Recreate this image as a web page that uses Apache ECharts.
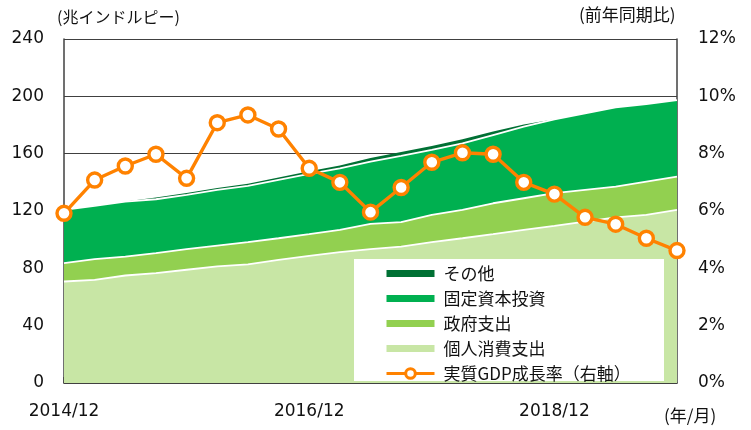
<!DOCTYPE html>
<html>
<head>
<meta charset="utf-8">
<script src="https://cdn.jsdelivr.net/npm/echarts@6/dist/echarts.min.js"></script>
<style>
  html, body { margin: 0; padding: 0; background: #fff; }
  #main { width: 751px; height: 430px; }
</style>
</head>
<body>
<div id="main"></div>
<script>
// 四半期 (年/月)
var quarters = ['2014/12', '2015/03', '2015/06', '2015/09', '2015/12', '2016/03', '2016/06', '2016/09',
    '2016/12', '2017/03', '2017/06', '2017/09', '2017/12', '2018/03', '2018/06', '2018/09',
    '2018/12', '2019/03', '2019/06', '2019/09', '2019/12'];

// 兆インドルピー
var consumption = [70.8, 72.0, 75.0, 76.6, 79.0, 81.3, 82.7, 85.9, 88.7, 91.3, 93.4,
    95.2, 98.3, 101.0, 103.8, 106.8, 109.6, 112.6, 115.5, 117.3, 120.8];
var government = [12.8, 14.4, 13.2, 14.0, 14.4, 14.6, 15.6, 15.1, 15.1, 15.5, 17.6,
    17.0, 19.0, 19.8, 21.6, 22.1, 22.8, 22.1, 21.5, 23.2, 23.2];
var investment = [37.2, 37.2, 38.4, 37.6, 37.8, 38.8, 39.2, 40.7, 42.1, 43.0, 43.5,
    46.2, 45.3, 46.4, 47.6, 49.9, 51.6, 53.5, 55.3, 54.1, 53.4];
var other = [0, 0, 0, 1.2, 1.3, 1.4, 1.5, 1.6, 1.8, 2.0, 2.5,
    2.8, 2.8, 2.8, 2.5, 1.5, 0, 0, 0, 0, 0];

// 前年同期比 (%)
var gdpGrowth = [5.92, 7.08, 7.57, 7.98, 7.14, 9.08, 9.35, 8.86, 7.49, 7.0, 5.96,
    6.82, 7.70, 8.03, 7.98, 7.0, 6.59, 5.78, 5.54, 5.05, 4.62];

var leftTicks = [0, 240, 40];   // min, max, interval
var rightTicks = [0, 12, 2];

var names = ['個人消費支出', '政府支出', '固定資本投資', 'その他', '実質GDP成長率（右軸）'];
var colors = ['#c8e6a5', '#92d050', '#00b050', '#007034', '#ff8200'];

var jpFont = '"Noto Sans CJK JP", sans-serif';
var numFont = '"DejaVu Sans", Verdana, sans-serif';
var textColor = '#111';
var axisColor = '#404040';
// 凡例の帯 (幅48・高さ7を高さ12の枠の中に)
var barIcon = 'path://M0,0L0,0M0,2.5L48,2.5L48,9.5L0,9.5ZM0,12L0,12';

var chart = echarts.init(document.getElementById('main'));

function areaSeries(i, data) {
    return {
        name: names[i],
        type: 'line',
        stack: 'gdp',
        data: data,
        symbol: 'none',
        itemStyle: { color: colors[i] },
        lineStyle: { color: i === 3 ? colors[i] : '#fff', width: i === 3 ? 0 : 1.8 },
        areaStyle: { color: colors[i], opacity: 1 },
        emphasis: { disabled: true },
        z: 2
    };
}

var option = {
    animation: false,
    grid: { left: 64, right: 74, top: 39, bottom: 47 },
    legend: {
        orient: 'vertical',
        left: 380,
        top: 259,
        itemWidth: 48,
        itemHeight: 12,
        itemGap: 6,
        z: 6,
        textStyle: { fontFamily: jpFont, fontSize: 17, color: textColor, lineHeight: 19, padding: [0, 0, 0, 4] },
        data: [
            { name: 'その他', icon: barIcon },
            { name: '固定資本投資', icon: barIcon },
            { name: '政府支出', icon: barIcon },
            { name: '個人消費支出', icon: barIcon },
            { name: '実質GDP成長率（右軸）', lineStyle: { width: 3 }, itemStyle: { borderWidth: 3 } }
        ]
    },
    graphic: [
        { type: 'rect', z: 5, shape: { x: 354, y: 259, width: 310, height: 122 }, style: { fill: '#fff' } },
        { type: 'text', z: 6, left: 57, top: 9, style: { text: '(兆インドルピー)', font: '16px ' + jpFont, fill: textColor } },
        { type: 'text', z: 6, left: 579, top: 6, style: { text: '(前年同期比)', font: '17px ' + jpFont, fill: textColor } },
        { type: 'text', z: 6, left: 664, top: 407, style: { text: '(年/月)', font: '17px ' + jpFont, fill: textColor } }
    ],
    xAxis: {
        type: 'category',
        boundaryGap: false,
        data: quarters,
        axisLine: { lineStyle: { color: axisColor, width: 1.5 } },
        axisTick: { inside: true, length: 6, interval: 7, lineStyle: { color: axisColor, width: 1.5 } },
        axisLabel: { interval: 7, margin: 20, fontFamily: numFont, fontSize: 17, color: textColor },
        splitLine: { show: false }
    },
    yAxis: [{
        type: 'value',
        min: leftTicks[0],
        max: leftTicks[1],
        interval: leftTicks[2],
        axisLine: { show: true, lineStyle: { color: axisColor, width: 1.5 } },
        axisTick: { show: false },
        axisLabel: { margin: 20, fontFamily: numFont, fontSize: 17, color: textColor },
        splitLine: { lineStyle: { color: axisColor, width: 1.2 } }
    }, {
        type: 'value',
        min: rightTicks[0],
        max: rightTicks[1],
        interval: rightTicks[2],
        axisLine: { show: true, lineStyle: { color: axisColor, width: 1.5 } },
        axisTick: { show: false },
        axisLabel: { margin: 21, formatter: '{value}%', fontFamily: numFont, fontSize: 17, color: textColor },
        splitLine: { show: false }
    }],
    series: [
        areaSeries(0, consumption),
        areaSeries(1, government),
        areaSeries(2, investment),
        areaSeries(3, other),
        {
            name: names[4],
            type: 'line',
            yAxisIndex: 1,
            data: gdpGrowth,
            symbol: 'circle',
            symbolSize: 14,
            lineStyle: { color: colors[4], width: 3.4 },
            itemStyle: { color: '#fff', borderColor: colors[4], borderWidth: 3.4 },
            emphasis: { disabled: true },
            z: 4
        }
    ]
};
chart.setOption(option);
</script>
</body>
</html>
